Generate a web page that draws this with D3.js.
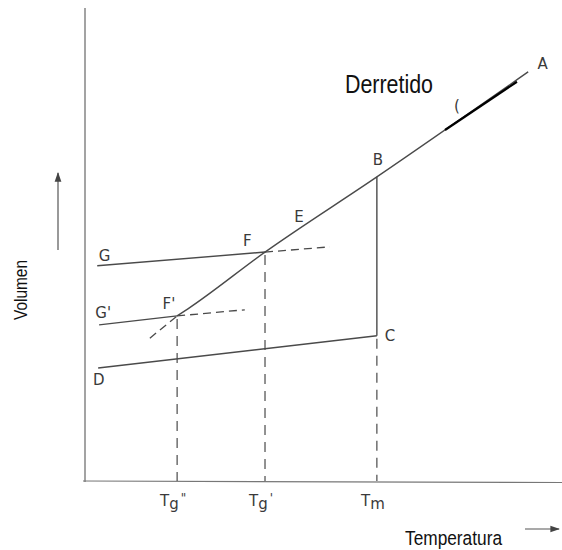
<!DOCTYPE html>
<html>
<head>
<meta charset="utf-8">
<script src="https://cdn.jsdelivr.net/npm/d3@7"></script>
<style>
  body { margin: 0; background: #fff; }
  .lbl { font-family: "DejaVu Sans", sans-serif; font-size: 15px; fill: #3a3a3a; }
  .big { font-family: "Liberation Sans Narrow", "Arial Narrow", "Liberation Sans", sans-serif; fill: #111; }
</style>
</head>
<body>
<div id="chart"></div>
<script>
// temperatures (arbitrary units, 0..100)
const Tg2 = 19.6, Tg1 = 38.3, Tm = 62.1;
const tickTemps = [Tg2, Tg1, Tm];
const tickNames = [["T", "g", "\""], ["T", "g", "'"], ["T", "m", ""]];

// liquid line: F' -> F -> E -> B -> A
const liquid = [[Tg2, 34.9], [21.9, 36.4], [Tg1, 48.4], [Tm, 64.3], [94.3, 86.5]];
// glass lines
const glassG = [[2.6, 45.5], [Tg1, 48.4]];
const glassG2 = [[3.0, 33.0], [Tg2, 34.9]];
// crystal line D -> C, then jump C -> B at Tm
const crystal = [[2.8, 23.9], [Tm, 30.7]];
const jump = [[Tm, 30.7], [Tm, 64.3]];
// dashed construction lines
const dashF = [[Tg1, 48.4], [52.1, 49.5]];
const dashF2 = [[Tg2, 34.9], [34.0, 36.2]];
const dashExt = [[13.8, 30.2], [Tg2, 34.9]];
const drops = [[Tg2, 34.9], [Tg1, 48.4], [Tm, 30.7]];
// overlay stroke on the melt line
const overlay = [[76.6, 74.2], [91.9, 84.4]];

// point labels
const pointLabels = [
  {t: "A", T: 96.3, V: 87.0},
  {t: "B", T: 61.2, V: 66.8},
  {t: "E", T: 44.5, V: 54.8},
  {t: "F", T: 33.6, V: 49.6},
  {t: "G", T: 2.9, V: 46.6},
  {t: "F'", T: 16.5, V: 36.3},
  {t: "G'", T: 2.2, V: 34.4},
  {t: "C", T: 63.8, V: 29.5},
  {t: "D", T: 1.7, V: 20.3}
];

const W = 562, H = 550;
const x = d3.scaleLinear().domain([0, 100]).range([85, 555]);
const y = d3.scaleLinear().domain([0, 100]).range([481, 8]);

const svg = d3.select("#chart").append("svg")
  .attr("width", W).attr("height", H);

svg.append("defs").append("marker")
  .attr("id", "head").attr("viewBox", "0 0 10 10")
  .attr("refX", 9).attr("refY", 5)
  .attr("markerWidth", 8).attr("markerHeight", 8)
  .attr("orient", "auto")
  .append("path").attr("d", "M0,1.5 L10,5 L0,8.5 Z").attr("fill", "#444");

const line = d3.line().x(d => x(d[0])).y(d => y(d[1]));
const ink = "#4a4a4a";

// axes
svg.append("line").attr("x1", x(0)).attr("y1", y(100)).attr("x2", x(0)).attr("y2", y(0) + 1)
  .attr("stroke", "#666").attr("stroke-width", 1.2);
svg.append("line").attr("x1", x(0) - 2).attr("y1", y(0)).attr("x2", W).attr("y2", y(0) + 1.5)
  .attr("stroke", "#777").attr("stroke-width", 1.2);

// solid curves
svg.append("path").attr("d", line.curve(d3.curveMonotoneX)(liquid))
  .attr("fill", "none").attr("stroke", ink).attr("stroke-width", 1.4);
line.curve(d3.curveLinear);
[glassG, glassG2, crystal, jump].forEach(seg => {
  svg.append("path").attr("d", line(seg))
    .attr("fill", "none").attr("stroke", ink).attr("stroke-width", 1.4);
});

// dashed lines
[dashF, dashF2, dashExt].forEach(seg => {
  svg.append("path").attr("d", line(seg))
    .attr("fill", "none").attr("stroke", ink).attr("stroke-width", 1.3)
    .attr("stroke-dasharray", "8,5");
});
svg.selectAll(".drop").data(drops).join("line")
  .attr("x1", d => x(d[0])).attr("x2", d => x(d[0]))
  .attr("y1", d => y(d[1]) + 3).attr("y2", y(0))
  .attr("stroke", ink).attr("stroke-width", 1.2)
  .attr("stroke-dasharray", "10,7");

// black overlay stroke
svg.append("path").attr("d", line(overlay))
  .attr("stroke", "#000").attr("stroke-width", 2.2);

// point labels
svg.selectAll(".pl").data(pointLabels).join("text")
  .attr("class", "lbl")
  .attr("x", d => x(d.T)).attr("y", d => y(d.V))
  .text(d => d.t);

// small mark near the melt line
svg.append("text").attr("class", "lbl").attr("x", x(78.5)).attr("y", y(78.3))
  .attr("font-size", 11).text("(");

// temperature tick labels
const tk = svg.selectAll(".tk").data(tickTemps).join("text")
  .attr("class", "lbl")
  .attr("text-anchor", "middle")
  .attr("x", (d, i) => x(d) - 4).attr("y", 506);
tk.each(function(d, i) {
  const g = d3.select(this);
  g.append("tspan").text(tickNames[i][0]);
  g.append("tspan").attr("dy", 3).text(tickNames[i][1]);
  g.append("tspan").attr("dy", -7).attr("dx", 2).attr("font-size", 12).text(tickNames[i][2]);
});

// titles
svg.append("text").attr("class", "big")
  .attr("x", 345).attr("y", 93).attr("font-size", 26)
  .attr("textLength", 88).attr("lengthAdjust", "spacingAndGlyphs")
  .text("Derretido");

svg.append("text").attr("class", "big")
  .attr("x", 405).attr("y", 545).attr("font-size", 20.5)
  .attr("textLength", 97).attr("lengthAdjust", "spacingAndGlyphs")
  .text("Temperatura");

svg.append("text").attr("class", "big")
  .attr("transform", "translate(27,320) rotate(-90)")
  .attr("font-size", 19)
  .attr("textLength", 60).attr("lengthAdjust", "spacingAndGlyphs")
  .text("Volumen");

// direction arrows
svg.append("line").attr("x1", 525).attr("y1", 529).attr("x2", 559).attr("y2", 529)
  .attr("stroke", "#555").attr("stroke-width", 1.2).attr("marker-end", "url(#head)");
svg.append("line").attr("x1", 58).attr("y1", 250).attr("x2", 58).attr("y2", 173)
  .attr("stroke", "#555").attr("stroke-width", 1.2).attr("marker-end", "url(#head)");
</script>
</body>
</html>
